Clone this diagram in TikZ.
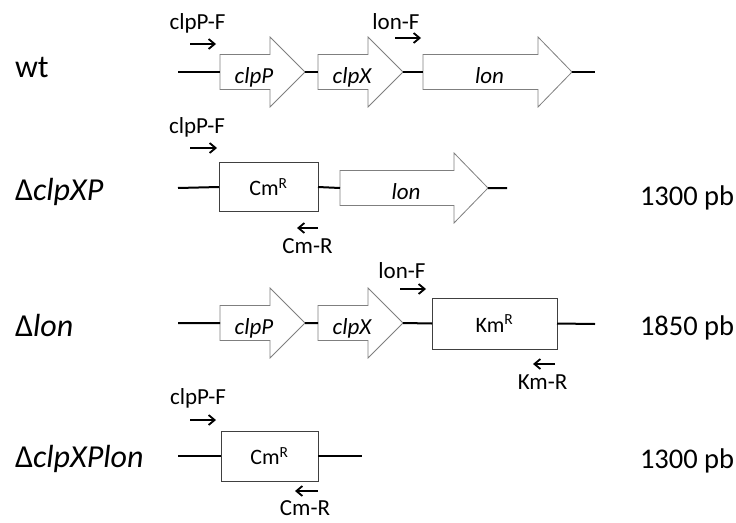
\documentclass[tikz,border=0pt]{standalone}
\usepackage{fontspec}
\setmainfont{Carlito}
\usetikzlibrary{arrows.meta}
\definecolor{mapGray}{HTML}{7F7F7F}
\definecolor{mapDark}{HTML}{404040}
\tikzset{
  gene map/.style={
    x=1pt, y=-1pt, line width=1pt,
    >={Straight Barb[length=6pt,width=10pt]},
    every node/.style={inner sep=0pt, outer sep=0pt, text=black}
  },
  strain label/.style={anchor=base west, font=\fontsize{32}{38}\selectfont},
  size label/.style={anchor=base west, font=\fontsize{28.5}{34}\selectfont},
  primer label/.style={anchor=base, font=\fontsize{23}{27}\selectfont},
  gene name/.style={anchor=base, font=\fontsize{23}{27}\selectfont\itshape},
  gene arrow/.style={draw=mapGray, fill=white, line width=0.8pt},
  marker box/.style={draw=mapDark, line width=0.8pt,
    font=\fontsize{22}{26}\selectfont},
  backbone/.style={line width=2pt},
  primer/.style={->, line width=1.8pt}
}
\newcommand{\GeneMapArrow}[6]{%
  \draw[gene arrow] (#2,#5-17.5) -- (#3,#5-17.5) -- (#3,#5-35) -- (#4,#5)
    -- (#3,#5+35) -- (#3,#5+17.5) -- (#2,#5+17.5) -- cycle;
  \coordinate (#1 in) at (#2,#5);
  \coordinate (#1 out) at (#4,#5);
  \node[gene name] (#1) at ({(#2+#3)/2+9},#5+11) {#6};
}
\newcommand{\GeneMapPrimer}[7]{%
  \node[primer label] (#1) at (#2,#3) {#4};
  \coordinate (#1 a) at (#5,#7);
  \coordinate (#1 b) at (#6,#7);
  \draw[primer] (#1 a) -- (#1 b);
}

\begin{document}
\begin{tikzpicture}[gene map]
    \useasboundingbox (0,0) rectangle (736,522);
    % strain names and product sizes
    \node[strain label] (wt) at (15,77) {wt};
    \node[strain label] (dxp) at (15,200) {Δ\textit{clpXP}};
    \node[strain label] (dl) at (15,336) {Δ\textit{lon}};
    \node[strain label] (dxl) at (15,467) {Δ\textit{clpXPlon}};
    \node[size label] (dxp size) at (640,205) {1300 pb};
    \node[size label] (dl size) at (640,335) {1850 pb};
    \node[size label] (dxl size) at (640,468) {1300 pb};
    % wt
    \coordinate (wt start) at (178,72);
    \coordinate (wt end) at (595,72);
    \GeneMapArrow{wt clpP}{220}{270}{305}{72}{clpP}
    \GeneMapArrow{wt clpX}{318}{368}{403}{72}{clpX}
    \GeneMapArrow{wt lon}{423}{538}{572}{72}{lon}
    \draw[backbone] (wt start) -- (wt clpP in) (wt clpP out) -- (wt clpX in)
      (wt clpX out) -- (wt lon in) (wt lon out) -- (wt end);
    \GeneMapPrimer{wt pF}{197.5}{29}{clpP-F}{190}{216}{44}
    \GeneMapPrimer{wt lonF}{396}{29}{lon-F}{395}{421}{38}
    % delta clpXP
    \coordinate (dxp start) at (178,188);
    \coordinate (dxp end) at (507,188);
    \node[marker box, minimum width=99pt, minimum height=49pt]
      (dxp cm) at (268.5,187) {Cm\textsuperscript{R}};
    \GeneMapArrow{dxp lon}{340}{454}{488}{188}{lon}
    \draw[backbone] (dxp start) -- (dxp cm.west) (dxp cm.east) -- (dxp lon in)
      (dxp lon out) -- (dxp end);
    \GeneMapPrimer{dxp pF}{197}{133}{clpP-F}{190}{217}{148}
    \GeneMapPrimer{dxp cmR}{307.5}{253}{Cm-R}{318}{297}{228}
    % delta lon
    \coordinate (dl start) at (178,323);
    \coordinate (dl end) at (595,324);
    \GeneMapArrow{dl clpP}{220}{270}{305}{323}{clpP}
    \GeneMapArrow{dl clpX}{318}{368}{403}{323}{clpX}
    \node[marker box, minimum width=125pt, minimum height=51pt]
      (dl km) at (494.5,323.5) {Km\textsuperscript{R}};
    \draw[backbone] (dl start) -- (dl clpP in) (dl clpP out) -- (dl clpX in)
      (dl clpX out) -- (dl km.west) (dl km.east) -- (dl end);
    \GeneMapPrimer{dl lonF}{402}{278}{lon-F}{400}{426}{289}
    \GeneMapPrimer{dl kmR}{542.5}{389}{Km-R}{555}{533}{364}
    % delta clpXP lon
    \coordinate (dxl start) at (178,456);
    \coordinate (dxl end) at (362,456);
    \node[marker box, minimum width=97pt, minimum height=50pt]
      (dxl cm) at (269.5,456) {Cm\textsuperscript{R}};
    \draw[backbone] (dxl start) -- (dxl cm.west) (dxl cm.east) -- (dxl end);
    \GeneMapPrimer{dxl pF}{198}{404}{clpP-F}{190}{216}{420}
    \GeneMapPrimer{dxl cmR}{305}{515.5}{Cm-R}{318}{295}{491}
\end{tikzpicture}
\end{document}
